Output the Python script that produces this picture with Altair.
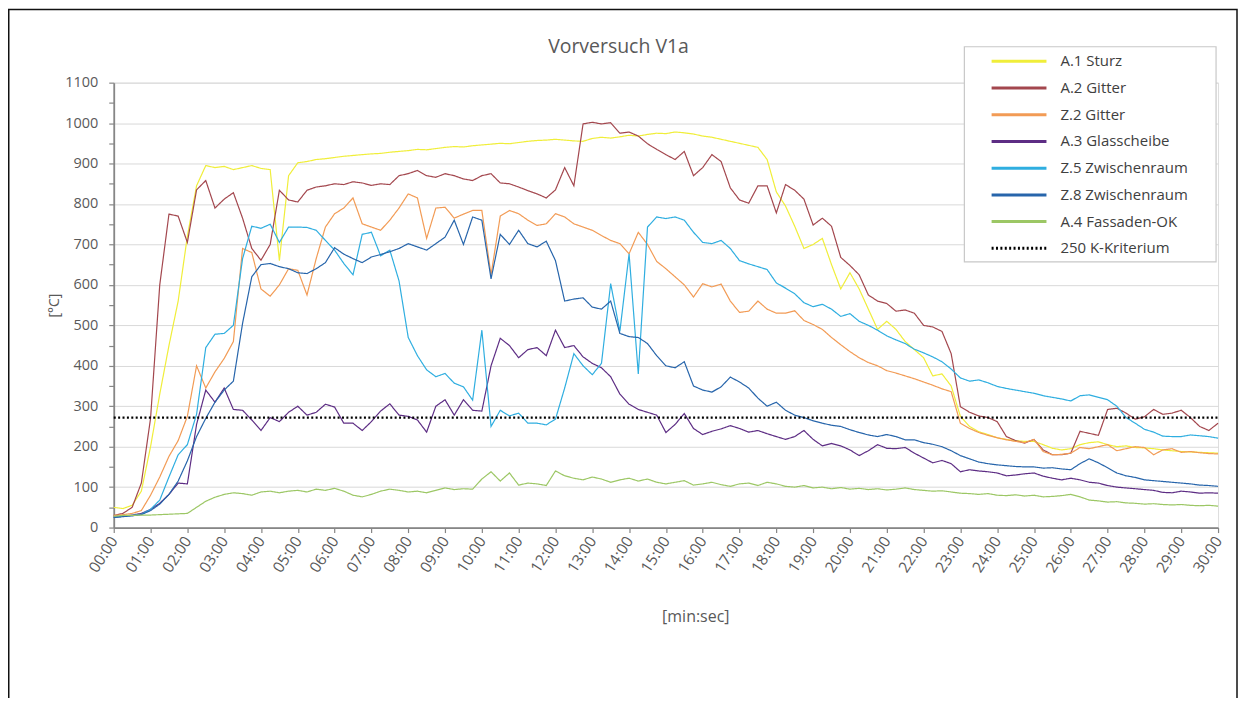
import altair as alt
import pandas as pd

# ---------------- data (values every 15 s, 00:00 ... 30:00) ----------------
STEP_MIN = 0.25
MINUTE_TICKS = list(range(31))
TITLE = "Vorversuch V1a"

SERIES = ["A.1 Sturz", "A.2 Gitter", "Z.2 Gitter", "A.3 Glasscheibe",
          "Z.5 Zwischenraum", "Z.8 Zwischenraum", "A.4 Fassaden-OK",
          "250 K-Kriterium"]
COLORS = ["#F0EE3A", "#A3474E", "#F29B55", "#5D2D84",
          "#2FAEE0", "#2765AB", "#9CC765", "#000000"]
DASHES = [[1, 0]] * 7 + [[2, 2.4]]

a1_sturz = [
    50, 47, 55, 90,
    200, 330, 450, 560,
    720, 845, 895, 890,
    893, 885, 890, 895,
    888, 885, 660, 870,
    902, 905, 910, 912,
    915, 918, 920, 922,
    924, 925, 928, 930,
    932, 935, 934, 937,
    940, 942, 941, 944,
    946, 948, 950, 949,
    952, 955, 957, 958,
    960, 958, 956, 955,
    962, 965, 963, 966,
    970, 968, 972, 975,
    974, 978, 976, 973,
    968, 965, 960, 955,
    950, 945, 940, 910,
    830, 795, 745, 690,
    700, 715, 650, 590,
    630, 590, 540, 490,
    510, 490, 460, 440,
    420, 375, 380, 350,
    275, 250, 237, 230,
    222, 218, 215, 213,
    213, 205, 196, 192,
    195, 205, 210, 212,
    205, 200, 202, 198,
    197, 195, 192, 190,
    188, 187, 186, 185,
    184]

a2_gitter = [
    30, 35, 50, 110,
    270, 600, 775, 770,
    705, 835, 858, 790,
    812, 828, 765, 690,
    661, 700, 834, 810,
    805, 834, 842, 845,
    850, 848, 855, 852,
    846, 850, 848, 870,
    875, 883, 870, 866,
    875, 870, 862, 858,
    870, 875, 852, 850,
    842, 833, 825, 815,
    835, 890, 845, 998,
    1002, 998, 1001, 975,
    978, 968, 949, 935,
    922, 910, 930, 870,
    890, 922, 905, 840,
    810, 802, 845, 845,
    778, 848, 834, 812,
    748, 765, 745, 668,
    648, 625, 575, 560,
    554, 535, 538, 530,
    500, 496, 485, 430,
    299, 285, 276, 272,
    262, 225, 215, 209,
    218, 192, 180, 180,
    184, 238, 233, 228,
    292, 295, 283, 268,
    274, 292, 280, 283,
    290, 272, 250, 240,
    258]

z2_gitter = [
    30, 32, 35, 42,
    80, 125, 176, 215,
    275, 400, 345, 385,
    418, 460, 690, 680,
    590, 572, 600, 640,
    636, 575, 665, 743,
    776, 790, 815, 751,
    743, 735, 760, 790,
    825, 815, 715, 790,
    792, 765, 775, 784,
    784, 625, 770, 784,
    776, 760, 747, 751,
    776, 768, 751, 743,
    735, 722, 710, 702,
    677, 730, 700, 658,
    640, 620, 600, 570,
    603, 595, 602, 560,
    532, 535, 560, 540,
    530, 530, 536, 512,
    502, 490, 470, 452,
    435, 420, 408, 400,
    388, 382, 375, 368,
    360, 352, 343, 336,
    258, 245, 235, 228,
    222, 217, 213, 210,
    218, 188, 180, 181,
    184, 198, 195, 200,
    205, 190, 195, 200,
    198, 180, 192, 195,
    186, 188, 185, 183,
    182]

a3_glasscheibe = [
    25, 28, 31, 35,
    45, 60, 82, 110,
    108, 255, 340, 310,
    345, 292, 290, 266,
    240, 272, 262, 285,
    300, 278, 285, 305,
    298, 258, 258, 240,
    262, 288, 306, 278,
    275, 266, 236, 300,
    316, 278, 316, 290,
    288, 400, 468, 450,
    420, 440, 445, 425,
    488, 445, 450, 422,
    406, 395, 373, 330,
    305, 292, 285, 278,
    235, 255, 282, 245,
    230, 238, 244, 252,
    245, 236, 240, 232,
    225, 218, 225, 240,
    218, 202, 208, 202,
    192, 178, 190, 205,
    196, 195, 198, 184,
    172, 160, 166, 158,
    138, 143, 140, 138,
    135, 128, 130, 133,
    135, 127, 122, 118,
    122, 118, 112, 110,
    104, 100, 98, 96,
    94, 92, 87, 86,
    90, 88, 85, 86,
    85]

z5_zwischenraum = [
    25, 28, 30, 33,
    45, 68, 125, 180,
    205, 280, 445, 478,
    480, 500, 665, 745,
    740, 750, 705, 743,
    743, 742, 735, 710,
    686, 653, 625, 725,
    730, 672, 686, 610,
    470, 425, 390, 373,
    381, 357, 348, 315,
    488, 250, 290, 276,
    283, 258, 258, 254,
    268, 345, 430, 400,
    378, 406, 603, 485,
    677, 380, 743, 768,
    764, 768, 760, 730,
    705, 702, 710, 690,
    660, 652, 645, 638,
    605, 592, 578, 556,
    546, 552, 540, 522,
    529, 510, 500, 488,
    474, 464, 455, 441,
    432, 422, 410, 392,
    370, 362, 365, 358,
    349, 344, 340, 336,
    332, 326, 322, 318,
    313, 326, 328, 322,
    316, 300, 272, 258,
    243, 236, 226, 225,
    225, 229, 227, 225,
    221]

z8_zwischenraum = [
    25, 27, 29, 32,
    42, 58, 82, 115,
    165, 225, 270, 310,
    340, 362, 505, 620,
    650, 653, 645, 640,
    630, 628, 640, 655,
    692, 676, 665, 655,
    669, 675, 682, 690,
    702, 694, 686, 702,
    718, 760, 700, 768,
    760, 615, 725, 700,
    735, 702, 694, 708,
    660, 560, 565, 568,
    545, 540, 560, 480,
    472, 470, 455, 425,
    400, 395, 410, 350,
    340, 335, 348, 372,
    360, 345, 320, 300,
    310, 290, 278, 272,
    264, 258, 253, 250,
    242, 235, 229, 225,
    230, 225, 217, 217,
    210, 206, 200, 190,
    178, 170, 162, 158,
    155, 153, 151, 150,
    150, 147, 148, 145,
    143, 158, 170, 160,
    148, 135, 128, 124,
    118, 116, 114, 112,
    110, 108, 105, 104,
    102]

a4_fassaden_ok = [
    28, 30, 30, 31,
    31, 32, 33, 34,
    35, 50, 65, 75,
    82, 86, 84, 80,
    88, 90, 86, 90,
    92, 88, 95, 92,
    97, 90, 80, 76,
    82, 90, 95, 92,
    88, 90, 86, 92,
    98, 94, 96, 95,
    120, 138, 115, 135,
    105, 110, 108, 104,
    140, 128, 122, 118,
    125, 120, 112, 118,
    122, 115, 120, 112,
    108, 112, 116, 105,
    108, 112, 106, 102,
    108, 110, 104, 112,
    108, 102, 100, 104,
    98, 100, 96, 99,
    95, 97, 94, 96,
    93, 95, 98, 94,
    92, 90, 91, 88,
    85, 84, 82, 84,
    80, 79, 81, 78,
    80, 76, 77, 79,
    82, 76, 68, 66,
    63, 64, 61, 60,
    58, 59, 57, 56,
    57, 55, 54, 55,
    53]

kriterium_value = 272
kriterium_t = [0, 30]

# ---------------- long table ----------------
series_values = [a1_sturz, a2_gitter, z2_gitter, a3_glasscheibe,
                 z5_zwischenraum, z8_zwischenraum, a4_fassaden_ok]
rows = []
for name, vals in zip(SERIES[:7], series_values):
    for i, v in enumerate(vals):
        rows.append({"series": name, "t": i * STEP_MIN, "v": v})
for t in kriterium_t:
    rows.append({"series": SERIES[7], "t": t, "v": kriterium_value})
df = pd.DataFrame(rows)

FONT = "Open Sans"
GRAY = "#595959"

legend_def = dict(
    title=None, orient="none", legendX=853, legendY=-36,
    symbolType="M-5.5,0H5.5", symbolSize=100, symbolStrokeWidth=3,
    labelFont=FONT, labelFontSize=15, labelColor="#404040",
    padding=7, rowPadding=10.8, symbolOffset=40, labelOffset=34,
)

lines = alt.Chart(df).mark_line(interpolate="linear").encode(
    x=alt.X("t:Q",
            scale=alt.Scale(domain=[0, 30], nice=False, zero=False),
            axis=alt.Axis(
                values=MINUTE_TICKS,
                labelExpr="(datum.value < 10 ? '0' : '') + datum.value + ':00'",
                labelAngle=-57, labelAlign="right", labelBaseline="middle",
                labelFont=FONT, labelFontSize=15.5, labelColor=GRAY,
                labelPadding=5, labelOverlap=False,
                tickSize=5, tickColor="#868686", tickWidth=1.2,
                domainColor="#868686", domainWidth=1.8,
                grid=False,
                title="[min:sec]", titleFont=FONT, titleFontSize=16,
                titleFontWeight="normal", titleColor=GRAY,
                titleX=583, titleY=89, titleBaseline="middle",
            )),
    y=alt.Y("v:Q",
            scale=alt.Scale(domain=[0, 1100], nice=False),
            axis=alt.Axis(
                values=list(range(0, 1101, 50)),
                labelExpr="datum.value % 100 == 0 ? '' + datum.value : ''",
                labelFont=FONT, labelFontSize=14.5, labelColor=GRAY,
                labelPadding=11, labelOverlap=False,
                tickSize=5, tickColor="#868686", tickWidth=1.2,
                domainColor="#868686", domainWidth=1.8,
                grid=True, gridColor="#d9d9d9", gridWidth=1,
                gridOpacity={"condition": {"test": "datum.value % 100 != 0", "value": 0}, "value": 1},
                title="[°C]", titleFont=FONT, titleFontSize=14,
                titleFontWeight="normal", titleColor=GRAY,
                titleX=-59, titleY=223, titleAngle=-90, titleBaseline="middle",
            )),
    color=alt.Color("series:N", sort=SERIES,
                    scale=alt.Scale(domain=SERIES, range=COLORS),
                    legend=alt.Legend(**legend_def)),
    strokeDash=alt.StrokeDash("series:N", sort=SERIES,
                              scale=alt.Scale(domain=SERIES, range=DASHES),
                              legend=alt.Legend(**legend_def)),
    strokeWidth=alt.condition(f"datum.series == '{SERIES[7]}'", alt.value(2.2), alt.value(1.2)),
)

deco = alt.Data(values=[{"k": 1}])

legend_box = alt.Chart(deco).mark_rect(
    fill="white", stroke="#c8c8c8", strokeWidth=1.2
).encode(
    x=alt.value(852.7), x2=alt.value(1105),
    y=alt.value(-36), y2=alt.value(179.7),
)

frame = alt.Chart(deco).mark_rect(
    fillOpacity=0, stroke="#111111", strokeWidth=1.5
).encode(
    x=alt.value(-105.25), x2=alt.value(1126),
    y=alt.value(-73.25), y2=alt.value(700),
)

title_text = alt.Chart(deco).mark_text(
    text=TITLE, font=FONT, fontSize=19.5, color=GRAY,
    align="center", baseline="alphabetic",
).encode(x=alt.value(506), y=alt.value(-30))

chart = alt.layer(lines, legend_box, frame, title_text).properties(
    width=1107, height=446,
    padding={"left": 106, "top": 74, "right": 20, "bottom": 170},
    autosize=alt.AutoSizeParams(type="none"),
).configure_view(stroke=None).configure(background="white")

chart.save("out.html", embed_options={"renderer": "svg", "actions": False})
